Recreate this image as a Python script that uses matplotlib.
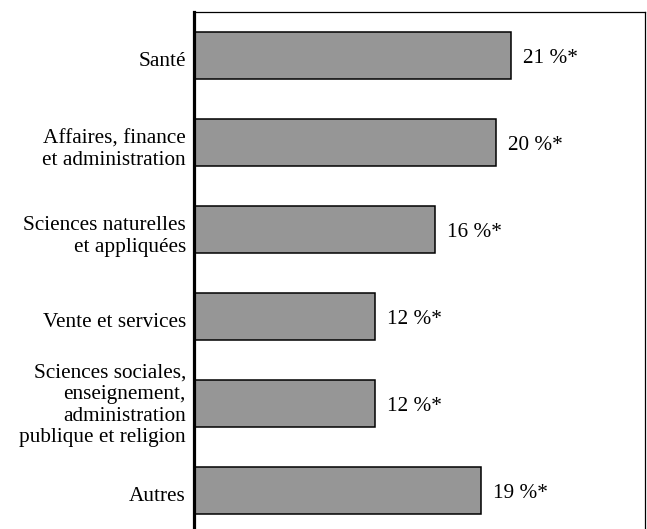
import numpy as np
import matplotlib.pyplot as plt
import matplotlib.transforms as mtransforms

categories = ["Santé", "Affaires, finance\net administration",
              "Sciences naturelles\net appliquées", "Vente et services",
              "Sciences sociales,\nenseignement,\nadministration\npublique et religion",
              "Autres"]
values = [21, 20, 16, 12, 12, 19]
labels = ["21 %*", "20 %*", "16 %*", "12 %*", "12 %*", "19 %*"]

plt.rcParams['font.family'] = ['Liberation Serif', 'DejaVu Serif']

fig = plt.figure(figsize=(6.47, 5.29), dpi=100)
ax = fig.add_axes([194 / 647, 0, (645 - 194) / 647, (529 - 12) / 529])

y = np.arange(len(categories))
ax.barh(y, values, height=0.54, color="#969696", edgecolor="black", linewidth=1.1)

for yi, v, lab in zip(y, values, labels):
    ax.text(v + 0.8, yi, lab, va="center_baseline", ha="left", fontsize=15.3)

ax.set_xlim(0, 29.9)
ax.set_ylim(5.44, -0.5)
ax.set_yticks(y)
ax.set_yticklabels(categories, fontsize=15.3, linespacing=1.18)
ax.tick_params(axis="y", length=0, pad=5.8)
ax.set_xticks([])

# labels in the original sit slightly off the bar centres
for t in ax.get_yticklabels():
    dy = 2 if t.get_text().count("\n") > 2 else -3
    shift = mtransforms.ScaledTranslation(0, dy / 100, fig.dpi_scale_trans)
    t.set_transform(t.get_transform() + shift)

ax.spines["bottom"].set_visible(False)
ax.spines["left"].set_linewidth(2.3)
ax.spines["top"].set_linewidth(0.9)
ax.spines["right"].set_linewidth(0.9)

fig.savefig("out.png", dpi=100)
